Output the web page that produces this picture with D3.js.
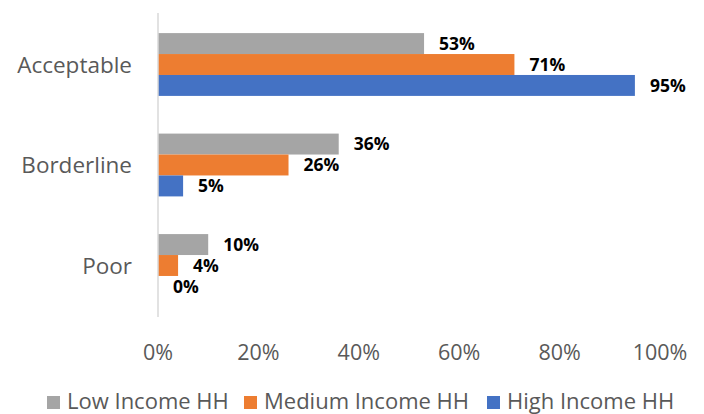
<!DOCTYPE html>
<html>
<head>
<meta charset="utf-8">
<script src="https://cdn.jsdelivr.net/npm/d3@7"></script>
<style>
  body { margin: 0; background: #fff; }
  text { font-family: "Open Sans", "Noto Sans", sans-serif; }
</style>
</head>
<body>
<svg id="chart" width="704" height="414"></svg>
<script>
// data
var categories = ['Acceptable', 'Borderline', 'Poor'];
var seriesNames = ['Low Income HH', 'Medium Income HH', 'High Income HH'];
var lowIncome = [53, 36, 10];
var mediumIncome = [71, 26, 4];
var highIncome = [95, 5, 0];
var xTicks = [0, 20, 40, 60, 80, 100];
var colors = ['#A5A5A5', '#ED7D31', '#4472C4'];

var svg = d3.select('#chart');

var x = d3.scaleLinear().domain([0, 100]).range([158, 660]);
var y = d3.scaleBand().domain(categories).range([13, 317])
    .paddingInner(0.375).paddingOuter(0.2);
var ySub = d3.scaleBand().domain(seriesNames).range([0, y.bandwidth()]);

var rows = [];
categories.forEach(function (c, i) {
  [lowIncome, mediumIncome, highIncome].forEach(function (s, j) {
    rows.push({ cat: c, series: seriesNames[j], value: s[i], color: colors[j] });
  });
});

// bars
svg.append('g').selectAll('rect')
  .data(rows).enter()
  .append('rect')
  .attr('x', x(0))
  .attr('y', function (d) { return y(d.cat) + ySub(d.series); })
  .attr('width', function (d) { return x(d.value) - x(0); })
  .attr('height', ySub.bandwidth())
  .attr('fill', function (d) { return d.color; });

// value labels
svg.append('g').selectAll('text')
  .data(rows).enter()
  .append('text')
  .attr('x', function (d) { return x(d.value) + 15; })
  .attr('y', function (d) { return y(d.cat) + ySub(d.series) + ySub.bandwidth() / 2; })
  .attr('dy', '0.36em')
  .style('font-size', '17.5px')
  .style('font-weight', 'bold')
  .attr('fill', '#000')
  .text(function (d) { return d.value + '%'; });

// vertical axis line
svg.append('line')
  .attr('x1', x(0)).attr('x2', x(0))
  .attr('y1', 13).attr('y2', 317)
  .attr('stroke', '#D9D9D9')
  .attr('stroke-width', 1.5);

// category labels
svg.append('g').selectAll('text')
  .data(categories).enter()
  .append('text')
  .attr('x', 132)
  .attr('y', function (d) { return y(d) + y.bandwidth() / 2; })
  .attr('dy', '0.36em')
  .attr('text-anchor', 'end')
  .style('font-size', '22.5px')
  .attr('fill', '#595959')
  .text(function (d) { return d; });

// x tick labels
svg.append('g').selectAll('text')
  .data(xTicks).enter()
  .append('text')
  .attr('x', function (d) { return x(d); })
  .attr('y', 360)
  .attr('text-anchor', 'middle')
  .style('font-size', '21.5px')
  .attr('fill', '#595959')
  .text(function (d) { return d + '%'; });

// legend
var legendX = [47, 244, 487];
var legend = svg.append('g').selectAll('g')
  .data(seriesNames).enter()
  .append('g')
  .attr('transform', function (d, i) { return 'translate(' + legendX[i] + ',0)'; });
legend.append('rect')
  .attr('x', 0).attr('y', 396)
  .attr('width', 13).attr('height', 13)
  .attr('fill', function (d, i) { return colors[i]; });
legend.append('text')
  .attr('x', 20).attr('y', 409)
  .style('font-size', '22px')
  .attr('fill', '#595959')
  .text(function (d) { return d; });
</script>
</body>
</html>
